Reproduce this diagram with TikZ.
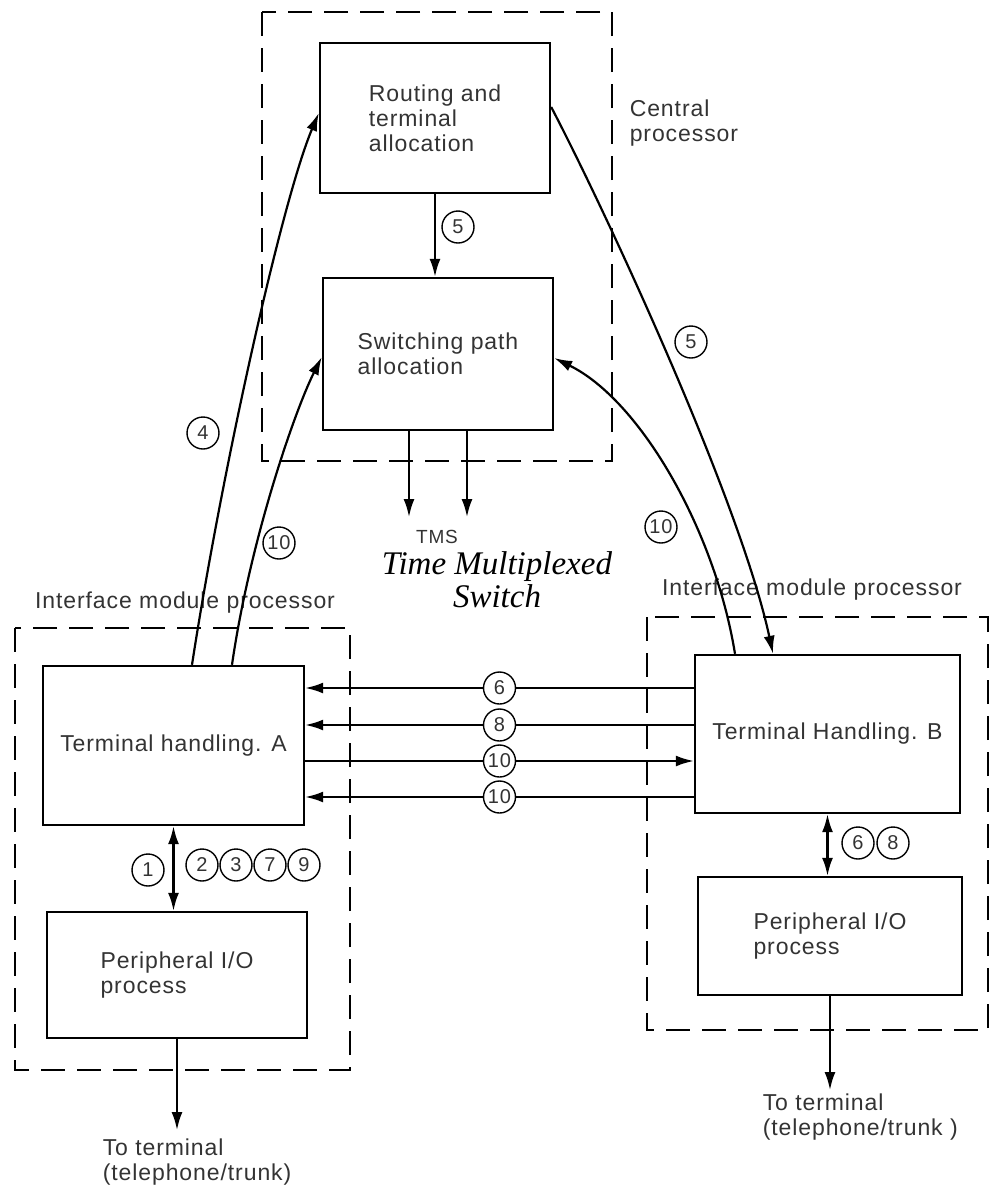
\documentclass[tikz,border=0pt]{standalone}
\usepackage{fontspec}
\setmainfont{Liberation Sans}[LetterSpace=4]
\newfontfamily\captionserif{Liberation Serif}
\usetikzlibrary{arrows.meta}
\definecolor{scan}{gray}{0.2}

\begin{document}
\begin{tikzpicture}[
    x=0.5pt, y=-0.5pt,
    box/.style={draw, line width=1.2pt, rectangle, align=left, text=scan,
                font=\fontsize{11.5}{12.5}\selectfont},
    num/.style={draw, circle, line width=0.7pt, inner sep=0pt, minimum size=16pt,
                fill=white, text=scan, font=\fontsize{10}{10}\selectfont},
    lbl/.style={text=scan, align=left, font=\fontsize{11.5}{12.5}\selectfont},
    region/.style={draw, line width=0.9pt, dash pattern=on 12pt off 6pt},
    >={Latex[length=9pt, width=5.5pt]}, line width=1.1pt,
]
\useasboundingbox (0,0) rectangle (996,1185);

% =================================================================
%  CENTRAL PROCESSOR
% =================================================================
\draw[region] (262,12) rectangle (612,461);
\node[lbl, anchor=west] (cplab) at (622,123) {Central\\processor};

\node[box, minimum width=115pt, minimum height=75pt] (route) at (435,118)
     {Routing and\\terminal\\allocation};
\node[box, minimum width=115pt, minimum height=76pt] (switch) at (438,354)
     {Switching path\\allocation};

\draw[->] (route.south) -- (route.south |- switch.north);
\node[num] (n5c) at (458,227) {5};

% TMS outputs
\coordinate (tmsL) at (409,517);
\coordinate (tmsR) at (467,517);
\draw[->] (switch.south -| tmsL) -- (tmsL);
\draw[->] (switch.south -| tmsR) -- (tmsR);
\node[text=scan, font=\fontsize{9.5}{10}\selectfont] (tms) at (437,537) {TMS};
\node[font=\captionserif\itshape\fontsize{16.5}{16.5}\selectfont, align=center]
     (tmsname) at (497,580) {Time Multiplexed\\Switch};

% =================================================================
%  INTERFACE MODULE A
% =================================================================
\draw[region] (15,628) rectangle (350,1070);
\node[lbl] (imA) at (185,603) {Interface module processor};

\node[box, minimum width=130.5pt, minimum height=79.5pt] (termA) at (173.5,745.5)
     {Terminal handling. A};
\node[box, minimum width=130pt, minimum height=63pt] (periA) at (177,975)
     {Peripheral I/O\\process};

\draw[<->] (termA.south) -- (termA.south |- periA.north);
\node[num] (n1) at (148,870) {1};
\foreach \n [count=\i] in {2,3,7,9}
    \node[num] (nA\n) at (168+34*\i,865) {\n};

\coordinate (outA) at (177,1130);
\draw[->] (periA.south) -- (outA);
\node[lbl, anchor=west] (toA) at (95,1162) {To terminal\\(telephone/trunk)};

% =================================================================
%  INTERFACE MODULE B
% =================================================================
\draw[region] (647,617) rectangle (988,1030);
\node[lbl] (imB) at (812,590) {Interface module processor};

\node[box, minimum width=132.5pt, minimum height=79pt] (termB) at (827.5,734)
     {Terminal Handling. B};
\node[box, minimum width=132pt, minimum height=59pt] (periB) at (830,936)
     {Peripheral I/O\\process};

\draw[<->] (termB.south) -- (termB.south |- periB.north);
\node[num] (nB6) at (858,843) {6};
\node[num] (nB8) at (893,843) {8};

\coordinate (outB) at (830,1090);
\draw[->] (periB.south) -- (outB);
\node[lbl, anchor=west] (toB) at (755,1117) {To terminal\\(telephone/trunk )};

% =================================================================
%  A <-> B messages
% =================================================================
\draw[<-] (termA.east |- 0,688) -- node[num] (h6)  {6}  (termB.west |- 0,688);
\draw[<-] (termA.east |- 0,725) -- node[num] (h8)  {8}  (termB.west |- 0,725);
\draw[->] (termA.east |- 0,761) -- node[num] (h10) {10} (termB.west |- 0,761);
\draw[<-] (termA.east |- 0,797) -- node[num] (h10b) {10} (termB.west |- 0,797);

% =================================================================
%  Links to the central processor
% =================================================================
\draw[->] (termA.north -| 192,0) .. controls (222,470) and (282,200) .. (route.west |- 0,113);
\node[num] (n4) at (203,433) {4};

\draw[->] (termA.north -| 232,0) .. controls (250,540) and (295,410) .. (switch.west |- 0,357);
\node[num] (n10a) at (279,543) {10};

\draw[->] (route.east |- 0,107) .. controls (605,210) and (740,500) .. (termB.north -| 773,0);
\node[num] (n5b) at (691,342) {5};

\draw[->] (termB.north -| 735,0) .. controls (715,530) and (640,400) .. (switch.east |- 0,358);
\node[num] (n10b) at (661,527) {10};

\end{tikzpicture}
\end{document}
